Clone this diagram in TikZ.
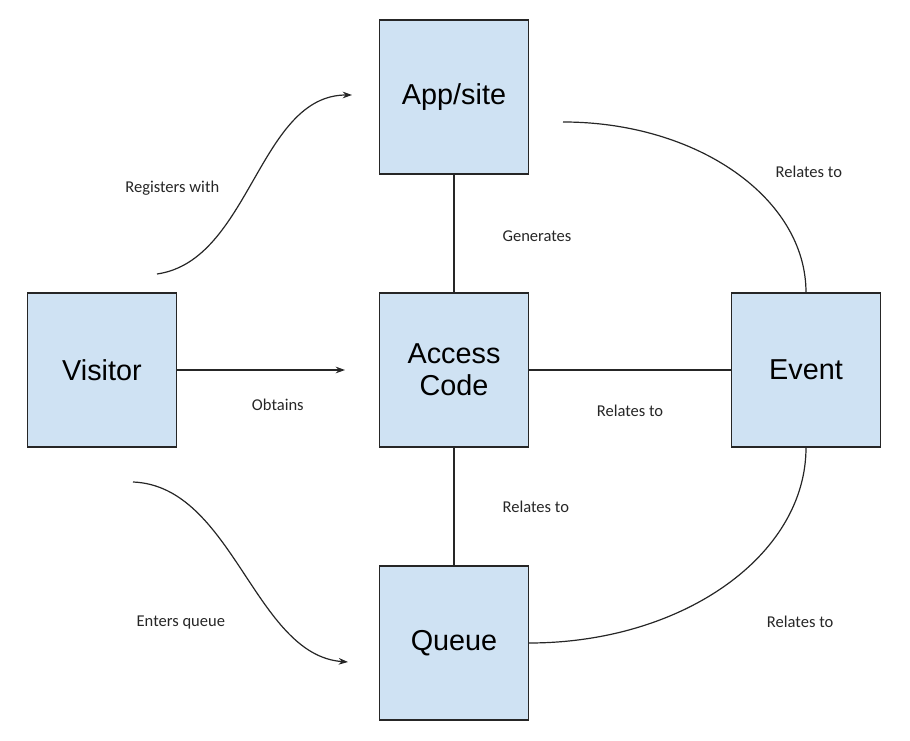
\documentclass[tikz,border=0pt]{standalone}
\usepackage{fontspec}
\setmainfont{Liberation Sans}
\newfontfamily\labelfont{Carlito}
\usepackage{xcolor}
\usepackage{tikz}
\usetikzlibrary{arrows.meta,positioning}

\definecolor{boxblue}{HTML}{CFE2F3}

\begin{document}
\begin{tikzpicture}[
    node distance=204.75pt and 264pt,
    entity/.style={rectangle, on grid, draw=black!85, fill=boxblue, line width=0.9pt,
        minimum width=111.75pt, minimum height=115.5pt, align=center,
        font=\fontsize{21.6}{24}\selectfont},
    rel/.style={inner sep=0pt, text=black!85,
        font=\labelfont\fontsize{12.4}{14}\selectfont},
    link/.style={line width=0.9pt, draw=black!85},
    arrow/.style={link, -{Stealth[length=7pt, width=5pt]}}
]
    \useasboundingbox (-340.5pt,-278.25pt) rectangle (342pt,277.5pt);

    \node[entity] (acc) {Access\\Code};
    \node[entity, above=of acc] (app) {App/site};
    \node[entity, below=of acc] (que) {Queue};
    \node[entity, left=of acc] (vis) {Visitor};
    \node[entity, right=of acc] (evt) {Event};

    % Free ends
    \coordinate (regA) at (-222.75pt,72pt);
    \coordinate (regB) at (-76.5pt,206.25pt);
    \coordinate (entA) at (-240.75pt,-84pt);
    \coordinate (entB) at (-79.5pt,-219pt);
    \coordinate (obtB) at (-81.75pt,0pt);
    \coordinate (appA) at (81.75pt,186pt);

    % Visitor
    \draw[arrow] (vis) -- node[rel, pos=0.6, below=21pt] (obtains) {Obtains} (obtB);
    \draw[arrow] (regA) .. controls +(70pt,10pt) and +(-70pt,0pt) .. (regB)
        node[rel, pos=0.5, below left=1pt and 26pt] (registers) {Registers with};
    \draw[arrow] (entA) .. controls +(75pt,-3pt) and +(-70pt,5pt) .. (entB)
        node[rel, pos=0.5, below left=33pt and 13pt] (enters) {Enters queue};

    % Access code
    \draw[link] (app) -- node[rel, right=36pt, yshift=-2pt] (generates) {Generates} (acc);
    \draw[link] (acc) -- node[rel, right=36pt] (relAQ) {Relates to} (que);
    \draw[link] (acc) -- node[rel, below=25.7pt] (relAE) {Relates to} (evt);

    % Event
    \draw[link] (appA) .. controls +(101pt,0pt) and +(0pt,70.5pt) .. (evt.north)
        node[rel, pos=0.5, right=30pt] (relPE) {Relates to};
    \draw[link] (que.east) .. controls +(115pt,0pt) and +(0pt,-81pt) .. (evt.south)
        node[rel, pos=0.5, below right=22pt and 31pt] (relQE) {Relates to};
\end{tikzpicture}
\end{document}
